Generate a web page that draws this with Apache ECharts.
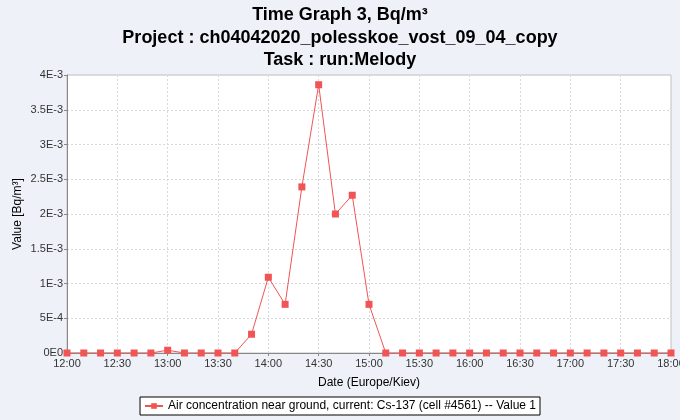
<!DOCTYPE html>
<html><head><meta charset="utf-8">
<script src="https://cdn.jsdelivr.net/npm/echarts@6/dist/echarts.min.js"></script>
<style>html,body{margin:0;padding:0;background:#eef2f8;}#c{width:680px;height:420px;}</style>
</head><body><div id="c"></div>
<script>
var times = ['12:00','12:10','12:20','12:30','12:40','12:50','13:00','13:10','13:20','13:30','13:40','13:50',
 '14:00','14:10','14:20','14:30','14:40','14:50','15:00','15:10','15:20','15:30','15:40','15:50',
 '16:00','16:10','16:20','16:30','16:40','16:50','17:00','17:10','17:20','17:30','17:40','17:50','18:00'];
var values = [0,0,0,0,0,0,0.00004,0,0,0,0,0.00027,
 0.00109,0.0007,0.00239,0.00386,0.002,0.00227,0.0007,0,0,0,0,0,
 0,0,0,0,0,0,0,0,0,0,0,0,0];
var seriesName = 'Air concentration near ground, current: Cs-137 (cell #4561) -- Value 1';
var titleText = 'Time Graph 3, Bq/m³\nProject : ch04042020_polesskoe_vost_09_04_copy\nTask : run:Melody';

function toMin(t){var p=t.split(':');return (+p[0])*60+(+p[1]);}
function fmtTime(v){var h=Math.floor(v/60),m=Math.round(v%60);return (h<10?'0':'')+h+':'+(m<10?'0':'')+m;}
function fmtExp(v){if(v===0)return '0E0';var s=Number(v.toPrecision(6)).toExponential();return s.replace('e','E').replace('+','');}
var data = times.map(function(t,i){return [toMin(t), values[i]];});
var font = '"Liberation Sans", Arial, sans-serif';
var chart = echarts.init(document.getElementById('c'));
chart.setOption({
  backgroundColor:'#eef2f8',
  animation:false,
  textStyle:{fontFamily:font},
  title:{text:titleText,left:'center',top:-1,
    textStyle:{fontSize:18,fontWeight:'bold',color:'#000',lineHeight:22.5,fontFamily:font}},
  grid:{left:67,right:9,top:75,bottom:67,outerBoundsMode:'none',containLabel:false,show:true,backgroundColor:'#ffffff',borderColor:'#c0c0c0',borderWidth:1},
  legend:{bottom:5,left:'center',borderColor:'#000',borderWidth:1,padding:[3,4,3,4],itemWidth:18,itemHeight:7,
    backgroundColor:'#ffffff',textStyle:{fontSize:12,color:'#000',fontFamily:font}},
  xAxis:{type:'value',min:720,max:1080,interval:30,
    name:'Date (Europe/Kiev)',nameLocation:'middle',nameGap:24,nameMoveOverlap:false,nameTextStyle:{fontSize:12,color:'#000'},
    axisLine:{lineStyle:{color:'#888'}},axisTick:{length:3,lineStyle:{color:'#888'}},
    axisLabel:{formatter:fmtTime,fontSize:11,color:'#333',margin:5},
    splitLine:{show:true,lineStyle:{color:'#d8d8d8',type:[2,2]}}},
  yAxis:{type:'value',min:0,max:0.004,interval:0.0005,
    name:'Value [Bq/m³]',nameLocation:'middle',nameGap:43,nameMoveOverlap:false,nameTextStyle:{fontSize:12,color:'#000'},
    axisLine:{show:true,lineStyle:{color:'#888'}},axisTick:{show:true,length:3,lineStyle:{color:'#888'}},
    axisLabel:{formatter:fmtExp,fontSize:11,color:'#333',margin:4},
    splitLine:{show:true,lineStyle:{color:'#d8d8d8',type:[2,2]}}},
  series:[{name:seriesName,type:'line',data:data,symbol:'rect',symbolSize:7,
    lineStyle:{color:'#f05454',width:1},itemStyle:{color:'#f05454'}}]
});
</script></body></html>
